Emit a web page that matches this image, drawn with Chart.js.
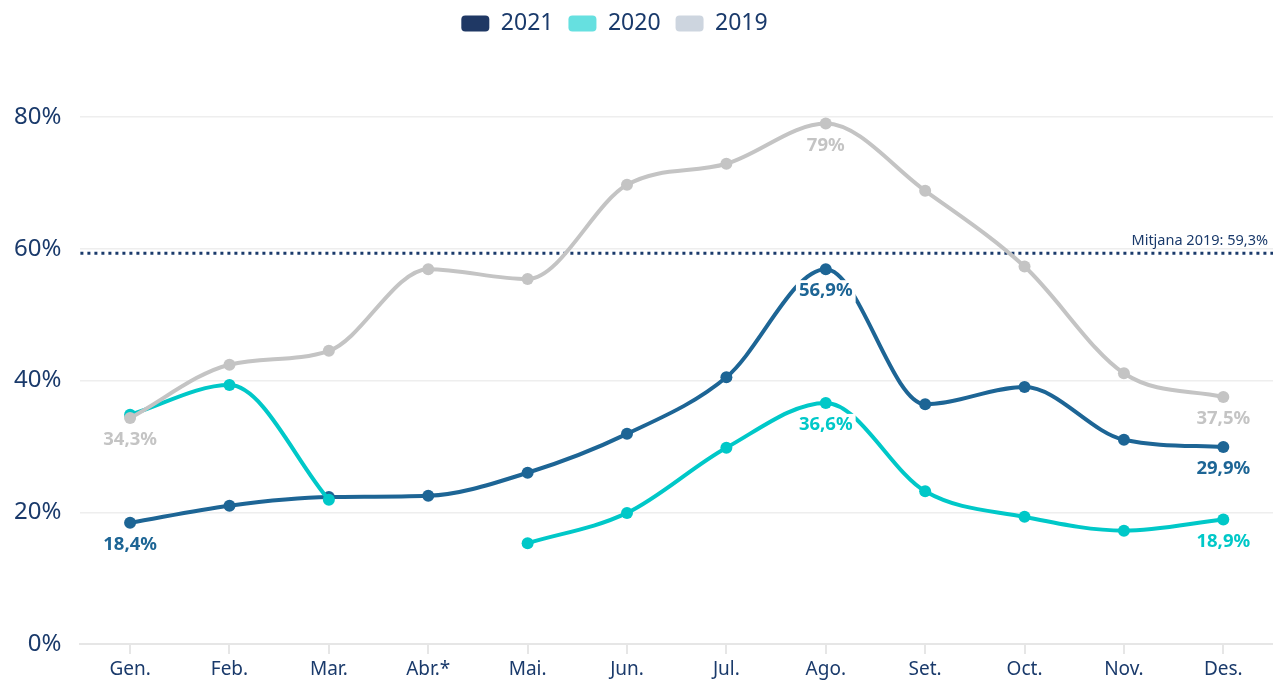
<!DOCTYPE html>
<html lang="ca">
<head>
    <meta charset="UTF-8">
    <title>Ocupació mensual</title>
    <script src="https://cdn.jsdelivr.net/npm/chart.js@4.4.0/dist/chart.umd.min.js"></script>
    <style>
        html, body { margin: 0; padding: 0; background: #fff; overflow: hidden; }
        .wrap { width: 1273px; height: 682px; }
        canvas { display: block; }
    </style>
</head>
<body>
    <div class="wrap"><canvas id="grafic"></canvas></div>

    <script>
        // Dades
        var mesos = ["Gen.", "Feb.", "Mar.", "Abr.*", "Mai.", "Jun.", "Jul.", "Ago.", "Set.", "Oct.", "Nov.", "Des."];
        var dades2021 = [18.4, 21.0, 22.3, 22.5, 26.0, 31.9, 40.5, 56.9, 36.4, 39.0, 31.0, 29.9];
        var dades2020 = [34.8, 39.3, 21.9, null, 15.3, 19.9, 29.8, 36.6, 23.2, 19.3, 17.2, 18.9];
        var dades2019 = [34.3, 42.4, 44.5, 56.9, 55.4, 69.7, 72.9, 79.0, 68.8, 57.3, 41.1, 37.5];
        var mitjana2019 = 59.3;
        var ticksY = [0, 20, 40, 60, 80];

        // punts amb etiqueta
        var etiquetes = [[0, 7, 11], [7, 11], [0, 7, 11]];

        var blau = '#1a3a6b';
        var colorsLinia = ['#1d6595', '#00c8c8', '#c4c4c4'];
        var colorsLlegenda = ['#1f3864', '#66e0e0', '#cdd5df'];
        var tipus = '"Noto Sans", "Open Sans", sans-serif';

        function percent(v) {
            return v.toFixed(1).replace('.0', '').replace('.', ',') + '%';
        }

        // línia de la mitjana
        var liniaMitjana = {
            id: 'liniaMitjana',
            beforeDatasetsDraw: function (chart) {
                var ctx = chart.ctx, a = chart.chartArea;
                var y = chart.scales.y.getPixelForValue(mitjana2019);
                ctx.save();
                ctx.strokeStyle = blau;
                ctx.lineWidth = 3;
                ctx.setLineDash([3, 4]);
                ctx.beginPath();
                ctx.moveTo(a.left, y);
                ctx.lineTo(a.right, y);
                ctx.stroke();
                ctx.setLineDash([]);
                ctx.fillStyle = blau;
                ctx.font = '14.5px ' + tipus;
                ctx.textAlign = 'right';
                ctx.textBaseline = 'bottom';
                ctx.fillText('Mitjana 2019: ' + percent(mitjana2019), chart.width - 5, y - 5);
                ctx.restore();
            }
        };

        // etiquetes dels punts
        var etiquetesPunts = {
            id: 'etiquetesPunts',
            afterDatasetsDraw: function (chart) {
                var ctx = chart.ctx;
                ctx.save();
                ctx.font = 'bold 18.5px ' + tipus;
                ctx.textAlign = 'center';
                ctx.textBaseline = 'middle';
                chart.data.datasets.forEach(function (ds, i) {
                    var meta = chart.getDatasetMeta(i);
                    etiquetes[i].forEach(function (idx) {
                        var p = meta.data[idx];
                        var txt = percent(ds.data[idx]);
                        var w = ctx.measureText(txt).width;
                        var y = p.y + 22;
                        ctx.fillStyle = '#fff';
                        ctx.fillRect(p.x - w / 2 - 3, y - 11, w + 6, 22);
                        ctx.fillStyle = colorsLinia[i];
                        ctx.fillText(txt, p.x, y);
                    });
                });
                ctx.restore();
            }
        };

        // llegenda una mica desplaçada i més espai a sota
        var ajustLlegenda = {
            id: 'ajustLlegenda',
            beforeInit: function (chart) {
                var fit = chart.legend.fit;
                chart.legend.fit = function () {
                    fit.bind(chart.legend)();
                    this.height += 72;
                };
            },
            afterLayout: function (chart) {
                chart.legend.left -= 22;
                chart.legend.right -= 22;
            }
        };

        function serie(nom, valors, i) {
            return {
                label: nom,
                data: valors,
                borderColor: colorsLinia[i],
                backgroundColor: colorsLinia[i],
                pointBackgroundColor: colorsLinia[i],
                pointBorderWidth: 0,
                pointRadius: 6,
                borderWidth: 4,
                cubicInterpolationMode: 'monotone',
                spanGaps: false,
                order: 2 - i
            };
        }

        new Chart(document.getElementById('grafic'), {
            type: 'line',
            data: {
                labels: mesos,
                datasets: [
                    serie('2021', dades2021, 0),
                    serie('2020', dades2020, 1),
                    serie('2019', dades2019, 2)
                ]
            },
            options: {
                responsive: true,
                maintainAspectRatio: false,
                animation: false,
                layout: { autoPadding: false, padding: { left: -5, right: -5, top: -3, bottom: -3 } },
                plugins: {
                    tooltip: { enabled: false },
                    legend: {
                        position: 'top',
                        labels: {
                            color: blau,
                            font: { size: 23, family: tipus },
                            boxWidth: 28,
                            boxHeight: 16,
                            useBorderRadius: true,
                            borderRadius: 4,
                            padding: 15,
                            generateLabels: function (chart) {
                                return chart.data.datasets.map(function (ds, i) {
                                    return {
                                        text: ds.label,
                                        fillStyle: colorsLlegenda[i],
                                        strokeStyle: colorsLlegenda[i],
                                        lineWidth: 0,
                                        borderRadius: 4,
                                        fontColor: blau,
                                        datasetIndex: i,
                                        hidden: false
                                    };
                                });
                            }
                        }
                    }
                },
                scales: {
                    x: {
                        offset: true,
                        grid: { display: true, drawOnChartArea: false, drawTicks: true, tickLength: 10, color: '#e6e6e6', lineWidth: 2 },
                        border: { color: '#e6e6e6', width: 2 },
                        ticks: { color: blau, font: { size: 19, family: tipus, lineHeight: 1 }, padding: 6 }
                    },
                    y: {
                        min: 0,
                        max: 80,
                        afterBuildTicks: function (s) { s.ticks = ticksY.map(function (v) { return { value: v }; }); },
                        grid: { color: '#eeeeee', lineWidth: 1.5, drawTicks: false },
                        border: { display: false },
                        ticks: {
                            color: blau,
                            font: { size: 24, family: tipus },
                            padding: 19,
                            callback: function (v) { return v + '%'; }
                        }
                    }
                }
            },
            plugins: [liniaMitjana, etiquetesPunts, ajustLlegenda]
        });
    </script>
</body>
</html>
